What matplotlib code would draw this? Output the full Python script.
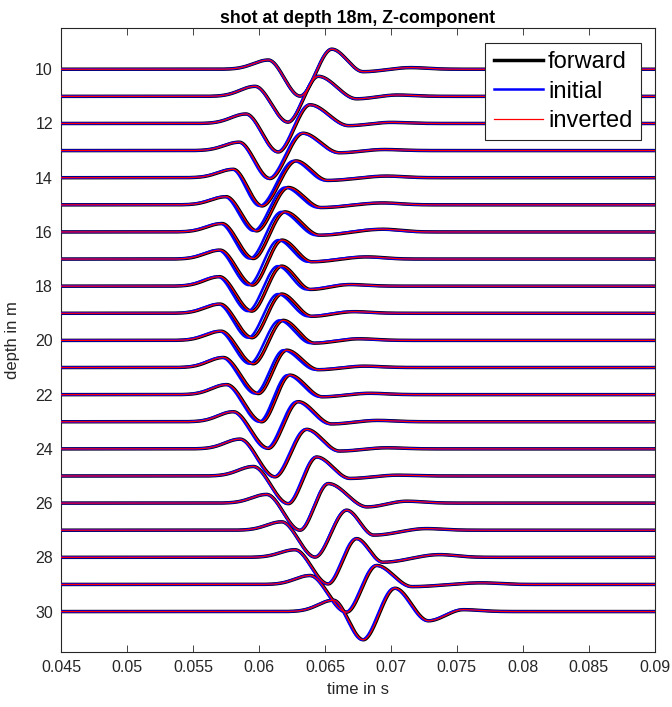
import numpy as np
import matplotlib
matplotlib.use("Agg")
import matplotlib.pyplot as plt
from matplotlib.ticker import FuncFormatter

plt.rcParams['font.family'] = ['Liberation Sans', 'DejaVu Sans']

depths = np.arange(10, 31)

# picked times (s) and offsets (depth units, + = downwards) of the wavelet extrema
bump_t = [0.06071, 0.05970, 0.05901, 0.05850, 0.05805, 0.05750, 0.05719, 0.05704,
          0.05700, 0.05704, 0.05712, 0.05729, 0.05755, 0.05805, 0.05856, 0.05957,
          0.06058, 0.06172, 0.06273, 0.06387, 0.06564]
bump_a = [-0.34, -0.37, -0.35, -0.31, -0.31, -0.30, -0.31, -0.33, -0.35, -0.34, -0.34,
          -0.37, -0.37, -0.37, -0.36, -0.35, -0.32, -0.31, -0.28, -0.33, -0.42]
trough_t = [0.06311, 0.06220, 0.06146, 0.06083, 0.06023, 0.05983, 0.05957, 0.05951,
            0.05945, 0.05947, 0.05957, 0.05995, 0.06021, 0.06071, 0.06121, 0.06222,
            0.06311, 0.06425, 0.06524, 0.06665, 0.06791]
trough_a = [0.99, 0.95, 1.05, 1.03, 1.04, 0.96, 0.98, 0.96, 0.92, 0.90, 0.86,
            0.96, 1.00, 0.98, 1.03, 1.02, 1.00, 0.99, 0.98, 1.02, 1.04]
peak_t = [0.06552, 0.06450, 0.06387, 0.06334, 0.06281, 0.06222, 0.06197, 0.06175,
          0.06172, 0.06172, 0.06184, 0.06210, 0.06235, 0.06298, 0.06362, 0.06438,
          0.06526, 0.06665, 0.06741, 0.06893, 0.07032]
peak_a = [-0.74, -0.74, -0.69, -0.64, -0.62, -0.64, -0.74, -0.70, -0.74, -0.71, -0.74,
          -0.64, -0.72, -0.74, -0.72, -0.70, -0.72, -0.74, -0.69, -0.70, -0.86]
tail1_t = [0.0679, 0.0674, 0.0668, 0.0661, 0.0652, 0.0647, 0.0646, 0.0640, 0.0639,
           0.0640, 0.0642, 0.0645, 0.0648, 0.0655, 0.0661, 0.0669, 0.0682, 0.0687,
           0.0694, 0.0716, 0.07285]
tail1_a = [0.09, 0.09, 0.08, 0.08, 0.10, 0.10, 0.12, 0.10, 0.12, 0.11, 0.10,
           0.08, 0.08, 0.08, 0.08, 0.09, 0.14, 0.18, 0.18, 0.08, 0.34]
tail2_t = [0.0715, 0.0705, 0.0700, 0.0695, 0.0697, 0.0694, 0.0694, 0.0682, 0.0669,
           0.0672, 0.0676, 0.0680, 0.0684, 0.0690, 0.0697, 0.0705, 0.0712, 0.0727,
           0.0737, 0.0769, 0.0755]
tail2_a = [-0.06, -0.05, -0.04, -0.04, -0.06, -0.07, -0.10, -0.08, -0.06, -0.06, -0.06,
           -0.05, -0.05, -0.05, -0.04, -0.03, -0.07, -0.06, -0.10, -0.06, -0.07]
# time lead of the initial-model traces
init_lead = [0.00003, 0.00005, 0.00008, 0.00012, 0.00020, 0.00025, 0.00028, 0.00030,
             0.00030, 0.00030, 0.00030, 0.00025, 0.00020, 0.00015, 0.00010, 0.00008,
             0.00005, 0.00005, 0.00008, 0.00010, 0.00010]

xticks = [0.045, 0.05, 0.055, 0.06, 0.065, 0.07, 0.075, 0.08, 0.085, 0.09]
yticks = list(range(10, 31, 2))

t = np.linspace(0.045, 0.09, 3000)


def wiggle(knot_t, knot_y):
    # smooth S-segments between extrema, gaussian onset / decay at the ends
    y = np.zeros_like(t)
    pre = t < knot_t[0]
    y[pre] = knot_y[0] * np.exp(-((t[pre] - knot_t[0]) / 0.0016) ** 2)
    post = t >= knot_t[-1]
    y[post] = knot_y[-1] * np.exp(-((t[post] - knot_t[-1]) / 0.0018) ** 2)
    for k in range(len(knot_t) - 1):
        t0, t1, y0, y1 = knot_t[k], knot_t[k + 1], knot_y[k], knot_y[k + 1]
        m = (t >= t0) & (t < t1)
        s = (t[m] - t0) / (t1 - t0)
        y[m] = y0 + (y1 - y0) * (3 * s**2 - 2 * s**3)
    return y


def trace(i, lead=0.0):
    kt = [bump_t[i] - lead / 2, trough_t[i] - lead, peak_t[i] - lead,
          tail1_t[i] - lead, tail2_t[i] - lead]
    ky = [bump_a[i], trough_a[i], peak_a[i], tail1_a[i], tail2_a[i]]
    return wiggle(kt, ky)


fig = plt.figure(figsize=(6.72, 7.07), dpi=100)
ax = fig.add_axes([61.3 / 672, 1 - 651.7 / 707, (654.5 - 61.3) / 672, (651.7 - 28.3) / 707])

for i, d in enumerate(depths):
    ax.plot(t, d + trace(i), color='k', lw=2.5, label='forward' if i == 0 else None, zorder=2)
for i, d in enumerate(depths):
    ax.plot(t, d + trace(i, init_lead[i]), color=(0, 0, 1), lw=1.8,
            label='initial' if i == 0 else None, zorder=3)
for i, d in enumerate(depths):
    ax.plot(t, d + trace(i), color=(1, 0, 0), lw=0.9, label='inverted' if i == 0 else None, zorder=4)

ax.set_xlim(0.045, 0.09)
ax.set_ylim(31.48, 8.49)
ax.set_xticks(xticks)
ax.set_yticks(yticks)
ax.xaxis.set_major_formatter(FuncFormatter(lambda v, p: '%g' % v))
ax.tick_params(direction='in', top=True, right=True, length=5, width=0.6,
               colors='#262626', labelsize=11.5, pad=6)
for s in ax.spines.values():
    s.set_color('#262626')
    s.set_linewidth(0.8)

ax.set_xlabel('time in s', fontsize=12, color='#262626', labelpad=5)
ax.set_ylabel('depth in m', fontsize=12, color='#262626', labelpad=11)
ax.set_title('shot at depth 18m, Z-component', fontsize=12.8, fontweight='bold', pad=4)

leg = ax.legend(loc='upper right', bbox_to_anchor=(640.7 / 672, 1 - 42.7 / 707),
                bbox_transform=fig.transFigure, fontsize=17, handlelength=2.1,
                handletextpad=0.2, labelspacing=0.32, borderpad=0.35, borderaxespad=0,
                fancybox=False, framealpha=1, edgecolor='#262626')
leg.get_frame().set_linewidth(0.8)

fig.savefig('out.png', dpi=100)
